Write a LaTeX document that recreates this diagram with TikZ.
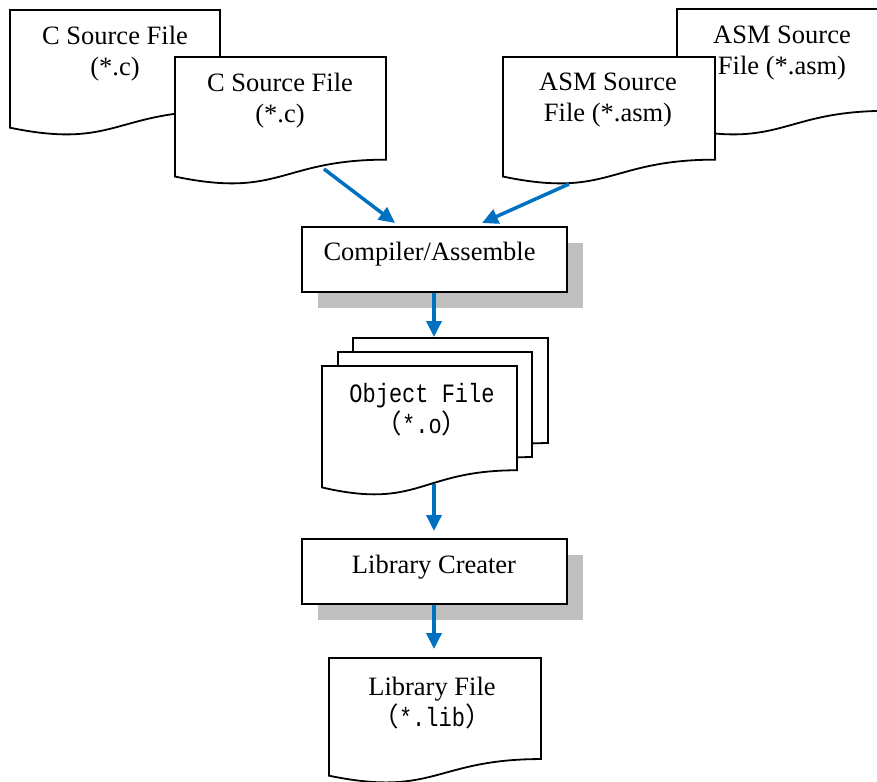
\documentclass[tikz,border=0pt]{standalone}
\usepackage{fontspec}
\setmainfont{Liberation Serif}
\newfontfamily\monof[FakeStretch=0.83]{Liberation Mono}
\newfontfamily\cjkf{Noto Sans CJK SC}
\usetikzlibrary{arrows.meta,shadows}
\definecolor{flowblue}{HTML}{0070C0}
\definecolor{shadowgray}{HTML}{BFBFBF}
\newcommand\drawdoc[4]{%
  \draw[docline] (#1,#2) -- ({#1+#3},#2) -- ({#1+#3},{#2+0.802*#4})
    .. controls ({#1+#3/2},{#2+0.802*#4}) and ({#1+#3/2},{#2+1.1075*#4}) ..
    (#1,{#2+0.934*#4}) -- cycle;}
\tikzset{
  docline/.style={draw=black, fill=white, line width=1.8pt, line join=miter},
  txt/.style={align=center, inner sep=0pt, font=\fontsize{26.5pt}{31pt}\selectfont},
  procbox/.style={draw=black, fill=white, line width=2pt, minimum width=265pt,
    minimum height=65pt, inner sep=0pt,
    drop shadow={shadow xshift=16pt, shadow yshift=-16pt, fill=shadowgray, opacity=1}},
  flow/.style={draw=flowblue, line width=3.5pt, -{Triangle[width=15pt,length=16pt]}}
}
\begin{document}
\begin{tikzpicture}[x=1pt,y=-1pt]
\useasboundingbox (0,0) rectangle (877,781);
\clip (0,0) rectangle (877,781);
% source files
\drawdoc{10}{10}{210}{126}
\node[txt] (cback) at (115,54) {C Source File\\(*.c)};
\drawdoc{175}{57}{211}{128}
\node[txt] (cfront) at (280,101) {C Source File\\(*.c)};
\drawdoc{677}{9}{210}{127}
\node[txt] (aback) at (782,53) {ASM Source\\File (*.asm)};
\drawdoc{503}{57}{212}{128}
\node[txt] (afront) at (608,100) {ASM Source\\File (*.asm)};
% compiler
\node[procbox] (comp) at (434.5,259.5) {};
\node[txt] (comptext) at (429.5,254) {Compiler/Assemble};
% object files
\drawdoc{353}{338}{195}{131}
\drawdoc{338}{352}{194}{131}
\drawdoc{322}{366}{195}{130}
\node[txt] (obj) at (422,410) {{\monof Object File}\\{\cjkf （}{\monof *.o}{\cjkf ）}};
% library creater
\node[procbox] (lc) at (434.5,571.5) {};
\node[txt] (lctext) at (434,567) {Library Creater};
% library file
\drawdoc{329}{658}{212}{126}
\node[txt] (lib) at (432,703) {Library File\\{\cjkf （}{\monof *.lib}{\cjkf ）}};
% connector end points
\coordinate (s1) at (324,169);
\coordinate (t1) at (395,223);
\coordinate (s2) at (569,184);
\coordinate (t2) at (482,223);
\coordinate (t3) at (434,337);
\coordinate (s4) at (434,484);
\coordinate (t4) at (434,531);
\coordinate (t5) at (434,649);
\draw[flow] (s1) -- (t1);
\draw[flow] (s2) -- (t2);
\draw[flow] (comp.south -| t3) -- (t3);
\draw[flow] (s4) -- (t4);
\draw[flow] (lc.south -| t5) -- (t5);
\end{tikzpicture}
\end{document}
